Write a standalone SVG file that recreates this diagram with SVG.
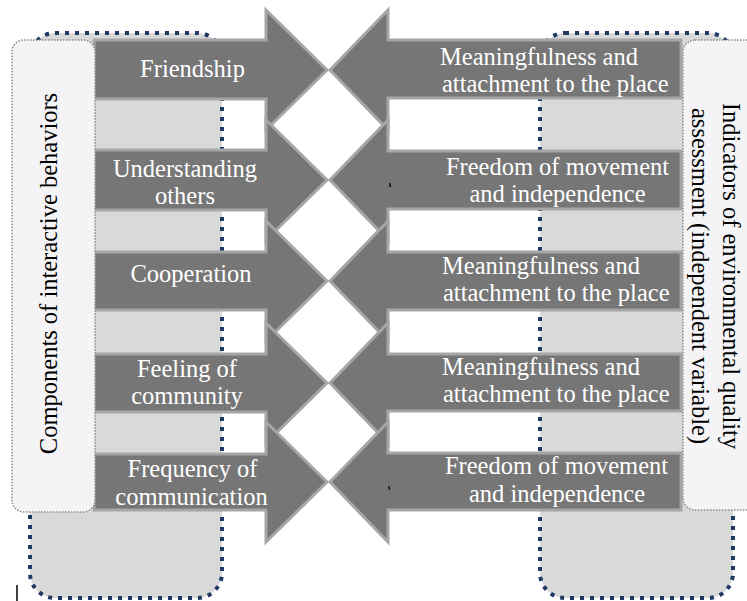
<svg xmlns="http://www.w3.org/2000/svg" width="747" height="601" viewBox="0 0 747 601">
<style>
.outer{fill:#d9d9d9;stroke:#1f3864;stroke-width:4;stroke-dasharray:4 6}
.arrow{fill:#767676;stroke:#a6a6a6;stroke-width:3;stroke-linejoin:miter}
.label{fill:#f4f4f6;stroke:#8a8a8a;stroke-width:1.5;stroke-dasharray:1.5 1.5}
.t{font-family:"Liberation Serif","Times New Roman",serif;font-size:24.5px;fill:#ffffff}
.lt{font-family:"Liberation Serif","Times New Roman",serif;font-size:24.5px;fill:#000000}
</style>
<rect width="747" height="601" fill="#ffffff"/>
<g id="left-frame"><rect class="outer" x="30" y="33" width="192" height="565" rx="25"/></g>
<g id="right-frame"><rect class="outer" x="540" y="33" width="193" height="565" rx="25"/></g>
<g id="connectors">
<path class="arrow" d="M94,40 H266 V10 L327,70 L266,130 V99 H94 Z"/>
<path class="arrow" d="M94,150 H266 V120 L327,180 L266,240 V210 H94 Z"/>
<path class="arrow" d="M94,252 H266 V221 L327,281 L266,341 V310 H94 Z"/>
<path class="arrow" d="M94,354 H266 V323 L327,383 L266,443 V412 H94 Z"/>
<path class="arrow" d="M94,454 H266 V422 L327,482 L266,542 V510 H94 Z"/>
<path class="arrow" d="M681,40 H388 V10 L330,70 L388,130 V98 H681 Z"/>
<path class="arrow" d="M681,151 H388 V120 L330,180 L388,240 V209 H681 Z"/>
<path class="arrow" d="M681,252 H388 V221 L330,281 L388,341 V310 H681 Z"/>
<path class="arrow" d="M681,354 H388 V323 L330,383 L388,443 V411 H681 Z"/>
<path class="arrow" d="M681,453 H388 V422 L330,482 L388,542 V510 H681 Z"/>
</g>
<g id="left-label">
<rect class="label" x="12" y="40" width="83" height="472" rx="12"/>
<text class="lt" transform="translate(57,273.5) rotate(-90)" text-anchor="middle">Components of interactive behaviors</text>
</g>
<g id="right-label">
<rect class="label" x="683" y="40" width="83" height="470" rx="12"/>
<text class="lt" transform="translate(723,276) rotate(90)" text-anchor="middle"><tspan x="0" y="0">Indicators of environmental quality</tspan><tspan x="0" y="31">assessment (independent variable)</tspan></text>
</g>
<g id="friendship"><text class="t" x="192.5" y="77" text-anchor="middle">Friendship</text></g>
<g id="understanding-others"><text class="t" text-anchor="middle"><tspan x="185" y="177">Understanding</tspan><tspan x="185" y="204">others</tspan></text></g>
<g id="cooperation"><text class="t" x="191" y="282" text-anchor="middle">Cooperation</text></g>
<g id="feeling-of-community"><text class="t" text-anchor="middle"><tspan x="187" y="377">Feeling of</tspan><tspan x="187" y="404">community</tspan></text></g>
<g id="frequency-of-communication"><text class="t" text-anchor="middle"><tspan x="192.5" y="477">Frequency of</tspan><tspan x="191.5" y="505">communication</tspan></text></g>
<g id="meaningfulness-1"><text class="t"><tspan x="440" y="65">Meaningfulness and</tspan><tspan x="442" y="92">attachment to the place</tspan></text></g>
<g id="freedom-1"><text class="t" text-anchor="middle"><tspan x="557.5" y="175">Freedom of movement</tspan><tspan x="557.5" y="202">and independence</tspan></text></g>
<g id="meaningfulness-2"><text class="t"><tspan x="442" y="274">Meaningfulness and</tspan><tspan x="443" y="301">attachment to the place</tspan></text></g>
<g id="meaningfulness-3"><text class="t"><tspan x="442" y="375">Meaningfulness and</tspan><tspan x="443" y="402">attachment to the place</tspan></text></g>
<g id="freedom-2"><text class="t" text-anchor="middle"><tspan x="556.5" y="474">Freedom of movement</tspan><tspan x="557" y="502">and independence</tspan></text></g>
<g id="marks">
<path d="M17,585 V601" stroke="#000" stroke-width="1.5"/>
<path d="M389.5,183 l1,4" stroke="#111" stroke-width="1.5"/>
<path d="M389,486 l0.5,4" stroke="#111" stroke-width="1.5"/>
</g>
</svg>
